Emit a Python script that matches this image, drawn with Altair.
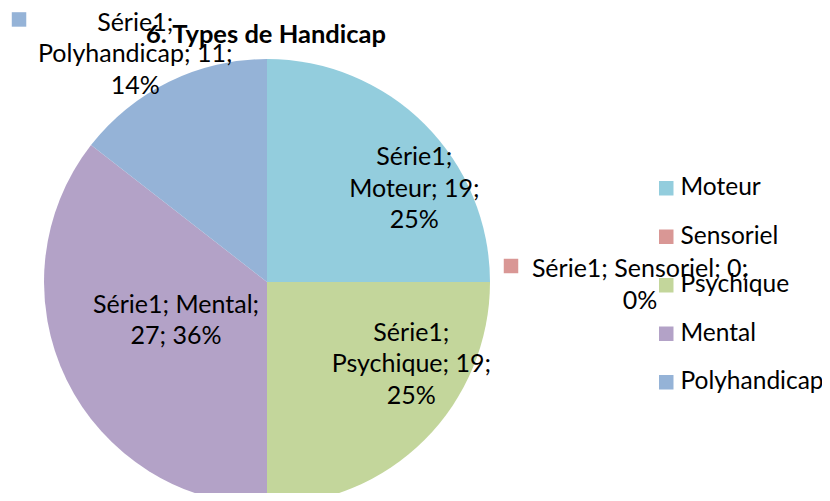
import altair as alt
import pandas as pd

# ---- data ----
series_name = "Série1"
categories = ["Moteur", "Sensoriel", "Psychique", "Mental", "Polyhandicap"]
values = [19, 0, 19, 27, 11]
colors = ["#93CDDD", "#D99795", "#C3D69B", "#B3A2C7", "#95B3D7"]
title_text = "6. Types de Handicap"

total = sum(values)
pcts = [round(v * 100 / total) for v in values]

# label wrapping (how many tokens per line) - layout only
wrap = {"Moteur": [1, 2, 1], "Sensoriel": [3, 1], "Psychique": [1, 2, 1],
        "Mental": [2, 2], "Polyhandicap": [1, 2, 1]}


def make_label(cat, v, p):
    toks = [f"{series_name};", f"{cat};", f"{v};", f"{p}%"]
    lines, i = [], 0
    for n in wrap[cat]:
        lines.append(" ".join(toks[i:i + n]))
        i += n
    return "\n".join(lines)


df = pd.DataFrame({
    "idx": list(range(len(categories))),
    "category": categories,
    "value": values,
    "label": [make_label(c, v, p) for c, v, p in zip(categories, values, pcts)],
    "nlines": [len(wrap[c]) for c in categories],
})

# ---- layout ----
W, H = 814, 485
CX, CY = 259, 274
R = 223
FONT = "Lato"
FS = 25
LH = 31.5

color_scale = alt.Scale(domain=categories, range=colors)
base = alt.Chart(df)

pie = base.mark_arc(outerRadius=R, clip=True).encode(
    theta=alt.Theta("value:Q", scale=alt.Scale(domain=[0, total])),
    color=alt.Color("category:N", scale=color_scale, sort=categories,
                    legend=alt.Legend(title=None, orient="none", legendX=646, legendY=168,
                                      symbolType="square", symbolSize=210, symbolStrokeWidth=0,
                                      labelFontSize=24.5, labelFont=FONT, labelColor="black",
                                      labelLimit=300,
                                      rowPadding=23.5, labelOffset=2, direction="vertical")),
    order=alt.Order("idx:Q"),
    x=alt.value(CX),
    y=alt.value(CY),
)


def placed(cat, radius, dx, dy, center_lines=False):
    shift = f" - (datum.nlines-1)*{LH}/2" if center_lines else ""
    return (base.transform_window(cum="sum(value)", sort=[alt.SortField("idx")])
            .transform_calculate(mid="datum.cum - datum.value/2")
            .transform_calculate(ang=f"2*PI*datum.mid/{total}")
            .transform_calculate(px=f"{CX} + {radius}*sin(datum.ang) + {dx}",
                                 py=f"{CY} - {radius}*cos(datum.ang) + {dy}" + shift)
            .transform_filter(alt.datum.category == cat))


label_layout = {
    "Moteur": (173, 25, 29),
    "Sensoriel": (371, 2, 3),
    "Psychique": (166, 27, -35),
    "Mental": (99, -2, -5),
    "Polyhandicap": (250, -22, -3),
}
key_layout = {
    "Sensoriel": (244, 0, -16),
    "Polyhandicap": (280, -125, -11),
}

layers = [pie]
for cat, (r, dx, dy) in label_layout.items():
    layers.append(placed(cat, r, dx, dy, True).mark_text(
        font=FONT, fontSize=FS, lineBreak="\n", lineHeight=LH,
        align="center", baseline="middle", color="black").encode(
        x=alt.X("px:Q", scale=None), y=alt.Y("py:Q", scale=None), text="label:N"))
for cat, (r, dx, dy) in key_layout.items():
    layers.append(placed(cat, r, dx, dy).mark_square(size=210, opacity=1).encode(
        x=alt.X("px:Q", scale=None), y=alt.Y("py:Q", scale=None),
        color=alt.Color("category:N", scale=color_scale, sort=categories)))

title = alt.Chart(pd.DataFrame({"t": [title_text]})).mark_text(
    font=FONT, fontSize=25.5, fontWeight="bold", align="center", baseline="middle",
    color="black").encode(x=alt.value(258), y=alt.value(27), text="t:N")
layers.append(title)

chart = alt.layer(*layers).properties(
    width=W, height=H, padding=0,
    autosize=alt.AutoSizeParams(type="none"),
    background="white",
).configure_view(stroke=None)

chart.save("out.html", embed_options={"renderer": "svg", "actions": False})
